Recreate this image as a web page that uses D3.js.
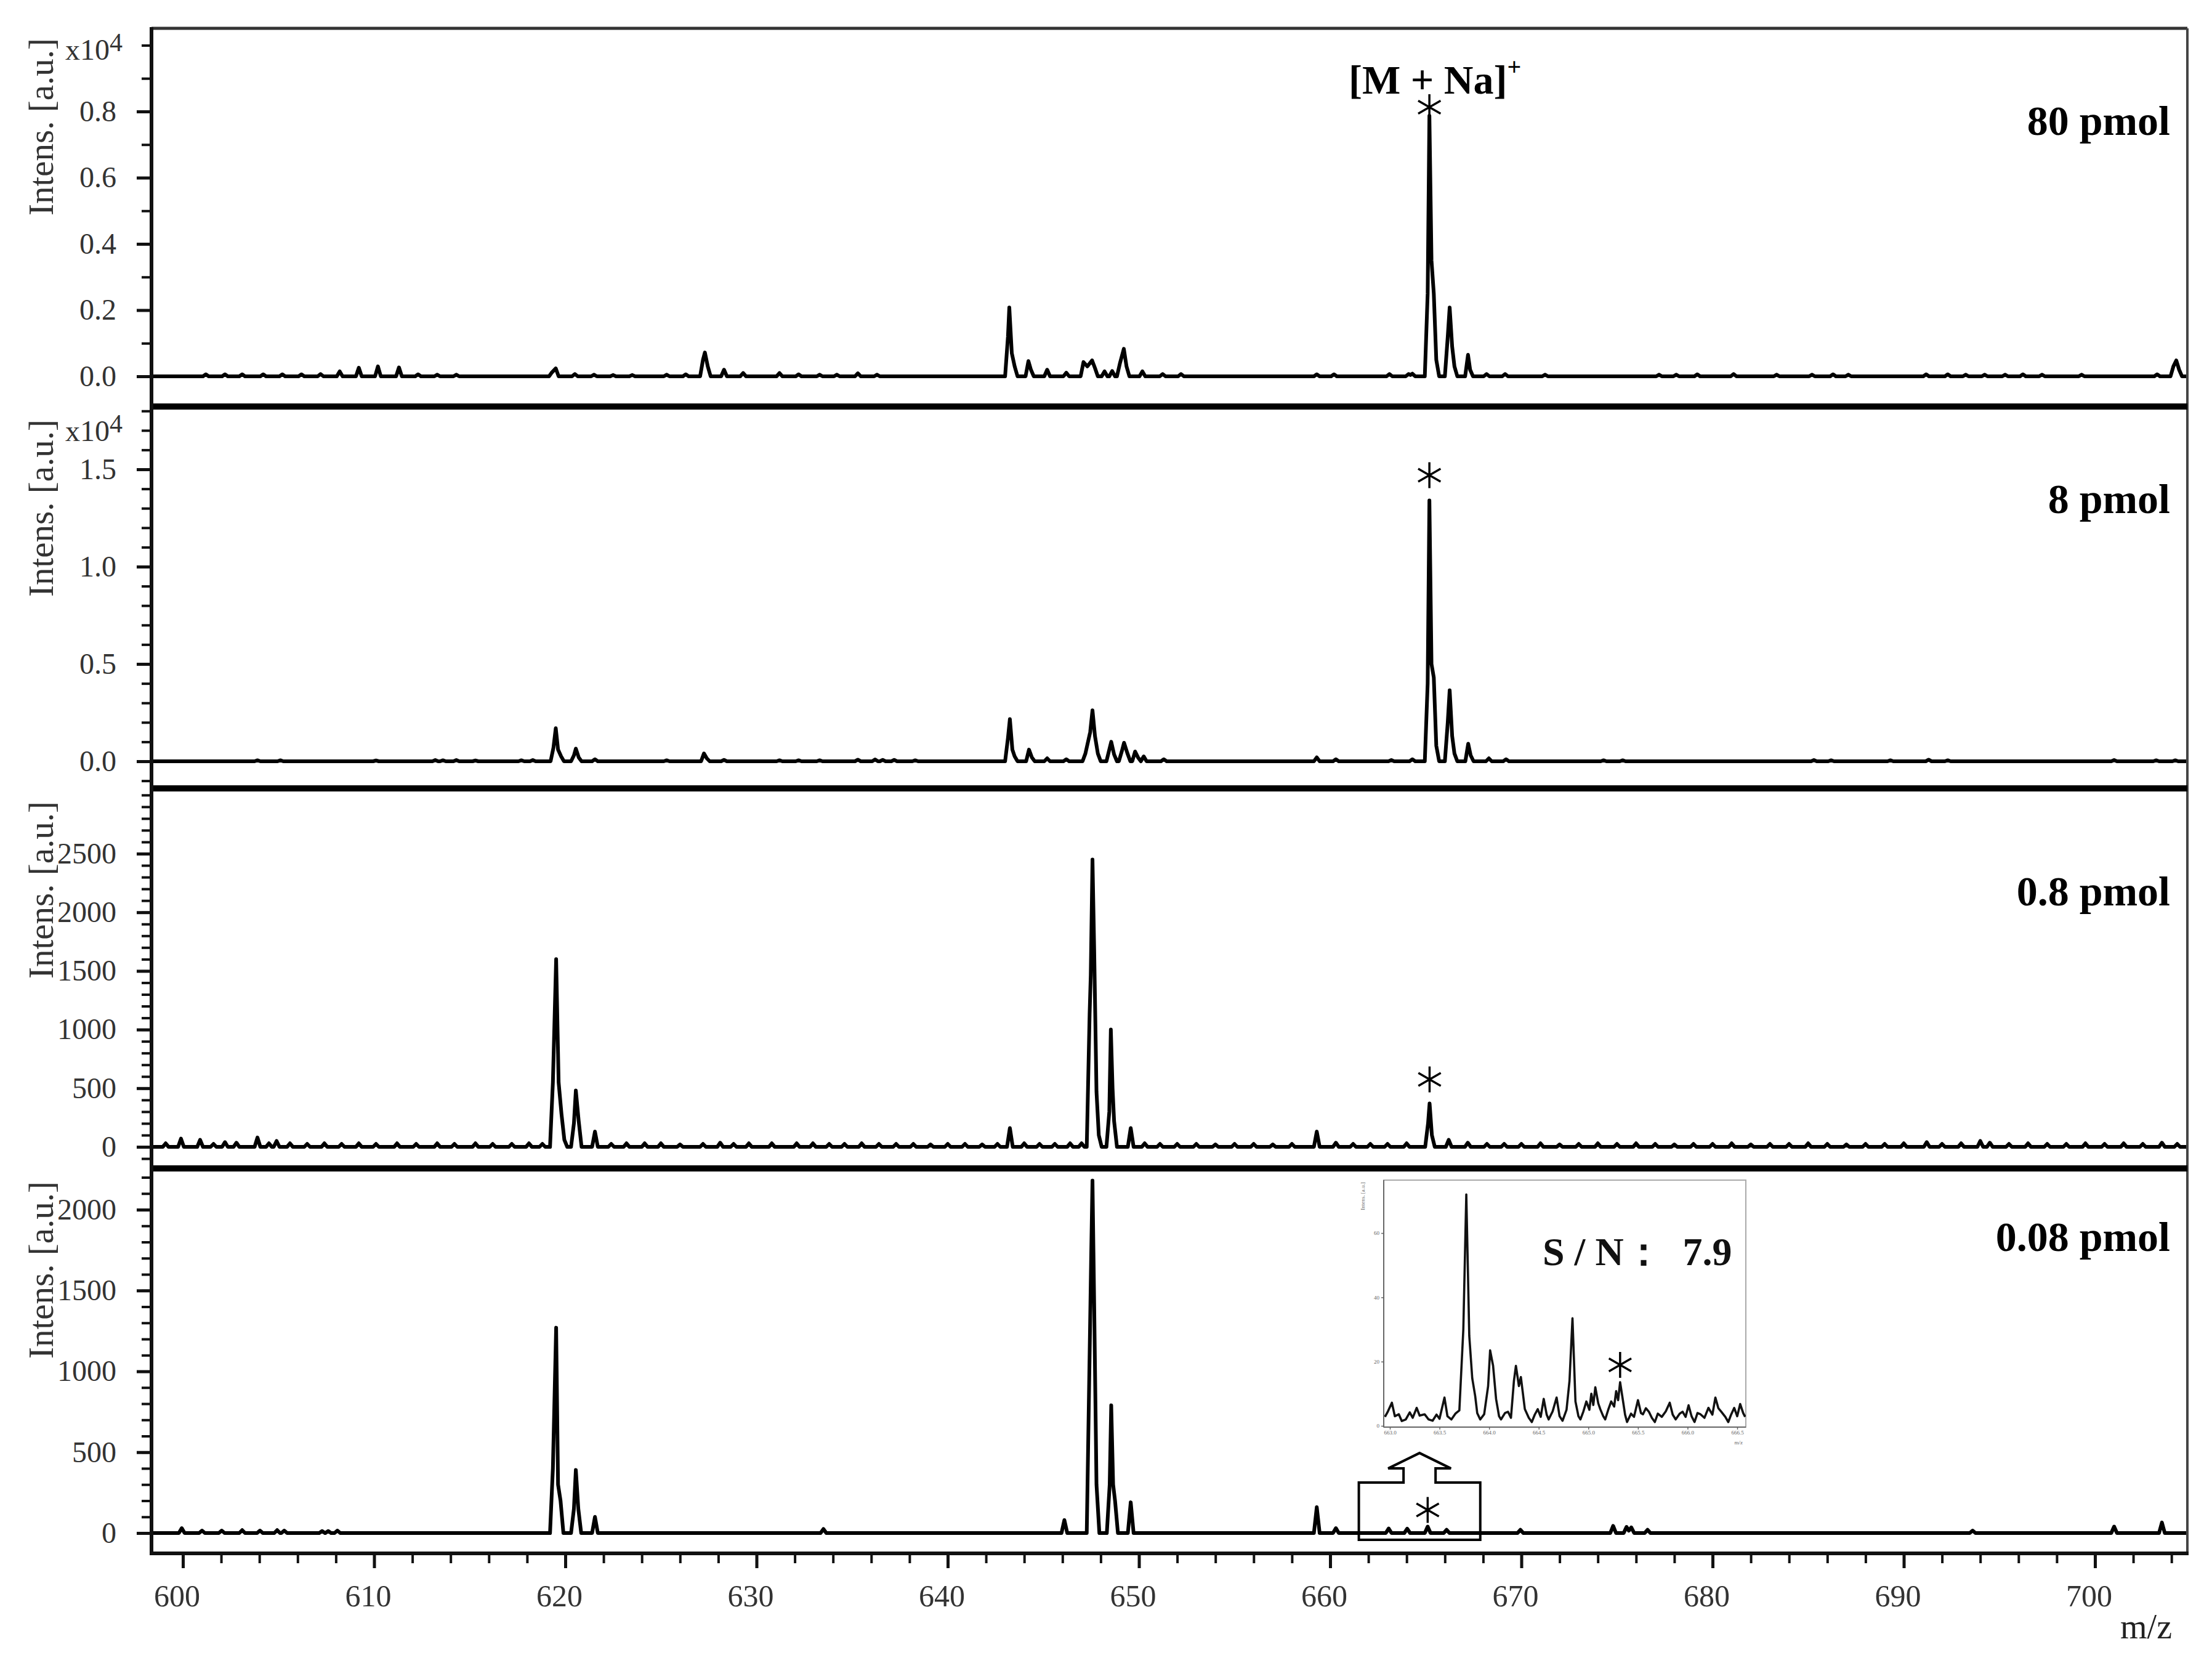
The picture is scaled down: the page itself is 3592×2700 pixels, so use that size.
<!DOCTYPE html>
<html><head><meta charset="utf-8">
<script src="https://cdn.jsdelivr.net/npm/d3@7"></script>
<style>
body{margin:0;background:#fff}
svg{display:block}
text{font-family:"Liberation Serif","Times New Roman",serif}
</style>
</head><body>
<svg id="c" width="3592" height="2700"></svg>
<script>
// ---------------- DATA ----------------
// Each spectrum: list of peak profiles; each profile = [[m/z, intensity], ...]
const spec80 = [
 [[601.2,60]],[[602.2,60]],[[603.1,60]],[[604.2,60]],[[605.2,60]],[[606.2,60]],[[607.2,70]],[[608.2,150]],[[609.2,260]],[[610.2,300]],[[611.3,270]],[[612.3,60]],[[613.3,50]],[[614.3,50]],
 [[619.3,120],[619.5,240]],[[620.5,70]],[[621.5,50]],[[622.5,40]],[[623.5,40]],[[625.3,50]],[[626.3,60]],
 [[627.2,500],[627.3,720],[627.45,300]],[[628.3,200]],[[629.3,100]],[[631.2,100]],[[632.2,60]],[[633.3,50]],[[634.2,50]],[[635.3,90]],[[636.3,50]],
 [[643.15,1200],[643.22,2080],[643.35,700],[643.5,300]],[[644.22,460],[644.35,200]],[[645.2,200]],[[646.2,110]],
 [[647.1,430],[647.3,300],[647.55,480],[647.7,250]],[[648.2,150]],[[648.6,160]],[[649.0,380],[649.21,830],[649.35,300]],[[650.18,150]],[[651.24,70]],[[652.2,70]],
 [[659.3,60]],[[660.2,60]],[[663.1,70]],[[664.1,70],[664.2,40],[664.3,80]],
 [[665.1,2500],[665.19,7870],[665.3,3500],[665.42,2500],[665.55,500]],[[666.15,1200],[666.25,2080],[666.38,900],[666.5,300]],[[667.21,650],[667.32,200]],[[668.18,70]],[[669.15,70]],[[671.24,50]],
 [[677.2,50]],[[678.1,50]],[[679.2,60]],[[681.1,70]],[[683.35,50]],[[685.2,50]],[[686.3,60]],[[687.1,50]],[[691.17,60]],[[692.3,60]],[[693.24,50]],[[694.23,50]],[[695.3,50]],[[696.23,60]],[[697.23,50]],[[699.3,50]],[[703.25,60]],[[704.1,300],[704.25,480],[704.4,200]]
];
const spec8 = [
 [[603.9,50]],[[605.1,50]],[[610.1,40]],[[613.2,60]],[[613.6,50]],[[614.3,60]],[[615.3,40]],[[617.7,50]],[[618.3,60]],
 [[619.38,700],[619.5,1700],[619.62,600],[619.78,250]],[[620.45,300],[620.55,650],[620.7,200]],[[621.55,100]],[[625.3,50]],
 [[627.25,400],[627.4,150]],[[628.3,70]],[[631.2,50]],[[632.2,50]],[[633.3,50]],[[635.3,80]],[[636.2,90]],[[636.6,70]],[[637.2,70]],[[638.3,50]],
 [[643.15,1200],[643.25,2170],[643.38,600],[643.5,250]],[[644.25,600],[644.4,200]],[[645.2,150]],[[646.2,100]],
 [[647.2,400],[647.45,1500],[647.57,2620],[647.7,1300],[647.85,400]],[[648.45,600],[648.55,1000],[648.7,350]],[[649.1,500],[649.22,950],[649.4,400]],[[649.8,500],[649.95,200]],[[650.25,250]],[[651.3,100]],
 [[659.3,200]],[[660.3,100]],[[663.2,60]],[[664.3,100]],
 [[665.1,4000],[665.19,13400],[665.3,5000],[665.42,4300],[665.55,800]],[[666.15,2000],[666.25,3650],[666.38,1300],[666.5,400]],[[667.22,900],[667.35,300]],[[668.3,150]],[[669.2,100]],
 [[674.3,50]],[[675.3,50]],[[685.3,60]],[[686.2,50]],[[689.3,50]],[[691.3,80]],[[692.3,50]],[[701.0,60]],[[703.2,50]],[[704.2,50]]
];
const spec08 = [
 [[599.1,30]],[[599.9,70]],[[600.9,60]],[[601.6,25]],[[602.2,40]],[[602.8,35]],[[603.9,80]],[[604.5,30]],[[604.9,50]],[[605.6,30]],[[606.5,25]],[[607.4,30]],[[608.3,25]],[[609.2,30]],[[610.1,25]],[[611.2,30]],[[612.2,25]],[[613.3,30]],[[614.2,25]],[[615.3,30]],[[616.2,25]],[[617.2,25]],[[618.1,30]],[[618.8,25]],
 [[619.35,550],[619.52,1600],[619.65,550],[619.8,280],[619.95,60]],[[620.45,200],[620.55,480],[620.7,220]],[[621.55,130]],[[622.4,25]],[[623.2,30]],[[624.15,30]],[[625.0,30]],[[626.0,20]],[[627.2,25]],[[628.1,35]],[[628.8,25]],[[629.6,30]],[[630.8,30]],[[632.1,30]],[[632.95,30]],[[633.8,25]],[[634.6,25]],[[635.5,30]],[[636.4,25]],[[637.3,25]],[[638.2,25]],[[639.1,20]],[[640.0,25]],[[640.9,25]],[[641.8,20]],[[642.6,25]],
 [[643.25,160]],[[644.0,30]],[[644.8,25]],[[645.6,25]],[[646.4,30]],[[647.0,30]],
 [[647.42,1130],[647.48,1465],[647.57,2450],[647.66,1670],[647.78,470],[647.9,100]],[[648.45,300],[648.53,1000],[648.62,500],[648.7,220]],[[649.57,160]],[[650.3,30]],[[651.1,25]],[[652.0,25]],[[653.0,25]],[[654.0,20]],[[655.0,25]],[[656.0,25]],[[657.0,20]],[[658.0,25]],
 [[659.3,130]],[[660.3,35]],[[661.2,25]],[[662.1,25]],[[663.0,25]],[[664.0,30]],
 [[665.12,200],[665.2,370],[665.32,100]],[[666.2,60]],[[667.2,35]],[[668.2,25]],[[669.1,25]],
 [[670.0,25]],[[671.0,30]],[[672.0,20]],[[673.0,25]],[[674.0,30]],[[675.0,25]],[[676.0,30]],[[677.0,25]],[[678.0,20]],[[679.0,25]],[[680.0,25]],[[681.0,30]],[[682.0,20]],[[683.0,25]],[[684.0,25]],[[685.0,30]],[[686.0,25]],[[687.0,20]],[[688.0,25]],[[689.0,25]],[[690.0,30]],[[691.2,40]],[[692.0,25]],[[693.0,30]],[[694.0,50]],[[694.5,35]],[[695.5,25]],[[696.5,30]],[[697.5,25]],[[698.5,25]],[[699.5,30]],[[700.5,25]],[[701.5,30]],[[702.5,25]],[[703.5,35]],[[704.3,25]]
];
const spec008 = [
 [[599.94,30]],[[601.0,15]],[[602.03,15]],[[603.1,18]],[[604.03,15]],[[604.93,18]],[[605.3,15]],[[607.28,12]],[[607.6,12]],[[608.08,15]],
 [[619.35,400],[619.52,1270],[619.62,300],[619.75,200]],[[620.45,150],[620.55,390],[620.68,150]],[[621.55,100]],
 [[633.5,25]],[[646.1,80]],
 [[647.42,1100],[647.5,1700],[647.57,2180],[647.66,1400],[647.78,300]],[[648.47,300],[648.55,790],[648.65,300],[648.75,200]],[[649.57,190]],
 [[659.3,160]],[[660.3,30]],[[663.06,28]],[[664.03,27]],[[665.1,40]],[[666.09,20]],[[669.95,20]],
 [[674.8,44]],[[675.5,38],[675.62,15],[675.75,35]],[[676.6,20]],[[693.6,15]],[[701.0,40]],[[703.5,65]]
];
// Inset (zoom of the 0.08 pmol spectrum): [m/z, intensity]
const insetSpec = [
 [662.95,2.8],[662.98,4.5],[663.02,7.2],[663.05,3.0],[663.09,3.6],[663.12,1.5],[663.16,2.0],[663.2,4.2],[663.23,2.5],[663.27,5.6],[663.3,3.2],[663.35,3.6],[663.39,2.0],[663.43,1.6],[663.47,3.5],[663.5,2.2],[663.55,8.8],[663.58,3.0],[663.62,2.0],[663.66,3.8],[663.7,4.8],
 [663.74,30],[663.77,72],[663.8,28],[663.83,14.8],[663.86,9.2],[663.88,4.0],[663.91,2.0],[663.95,3.6],[663.99,12.4],[664.01,23.5],[664.04,18.7],[664.07,8.4],[664.1,3.0],[664.12,2.0],[664.16,4.0],[664.19,4.4],[664.22,2.5],
 [664.25,14],[664.27,18.7],[664.3,12.4],[664.32,15.2],[664.36,5.2],[664.4,2.5],[664.43,1.2],[664.46,3.5],[664.49,5.2],[664.52,2.8],[664.55,8.4],[664.58,3.5],[664.6,2.0],[664.64,4.5],[664.68,8.8],[664.71,3.0],[664.74,1.6],[664.78,5.0],
 [664.81,14],[664.84,33.5],[664.87,7.6],[664.9,3.0],[664.92,2.0],[664.95,4.5],[664.98,7.6],[665.01,5.0],[665.03,10],[665.05,6.5],[665.07,12],[665.1,7.0],[665.12,5.2],[665.15,3.0],[665.17,2.0],[665.2,5.0],[665.23,7.6],[665.26,6.0],[665.28,10.8],[665.3,8.0],[665.32,13.6],[665.35,7.6],[665.37,3.5],[665.39,1.2],
 [665.43,3.8],[665.46,2.8],[665.5,8.0],[665.53,4.0],[665.55,3.6],[665.58,5.5],[665.61,4.4],[665.64,2.5],[665.67,1.2],[665.7,3.8],[665.74,2.8],[665.78,4.5],[665.82,7.2],[665.85,3.5],[665.88,2.0],[665.92,3.8],[665.95,4.4],[665.98,2.8],[666.01,6.4],[666.04,3.0],[666.07,1.2],[666.1,4.0],[666.13,3.6],[666.17,2.5],[666.21,5.6],[666.25,3.5],[666.28,8.8],[666.31,5.5],[666.34,4.4],[666.38,2.8],[666.41,1.2],[666.44,3.6],[666.47,5.6],[666.5,3.0],[666.53,6.8],[666.56,4.0],[666.58,2.8]
];

const panelLabels = ["80 pmol","8 pmol","0.8 pmol","0.08 pmol"];
const yMajorTicks = [[0,2000,4000,6000,8000],[0,5000,10000,15000],[0,500,1000,1500,2000,2500],[0,500,1000,1500,2000]];
const yTickLabels = [["0.0","0.2","0.4","0.6","0.8"],["0.0","0.5","1.0","1.5"],["0","500","1000","1500","2000","2500"],["0","500","1000","1500","2000"]];
const yMinorSpec = [[0,10000,1000],[-1000,18000,1000],[-100,3000,100],[0,2200,100]]; // start, stop, step
const yExponent = ["4","4",null,null];
const xMajorTicks = [600,610,620,630,640,650,660,670,680,690,700];
const xTickLabels = ["600","610","620","630","640","650","660","670","680","690","700"];
const insetXTicks = [663,663.5,664,664.5,665,665.5,666,666.5];
const insetYTicks = [0,20,40,60];

// ---------------- LAYOUT ----------------
const W=3592,H=2700;
const L=246,R=3552,TOP=46,BOT=2522;
const seps=[660,1280,1897];
const panelTop=[TOP,665,1285,1902];
const panelBot=[655,1275,1892,2519];
const yRef=[[0,8000],[0,15000],[0,2500],[0,2000]];
const yPx=[[611,181],[1236,762],[1862,1386],[2489,1964]];
const labelBase=[219,833,1470,2031];
const specs=[spec80,spec8,spec08,spec008];

const svg=d3.select("#c");
svg.append("rect").attr("width",W).attr("height",H).attr("fill","#fff");
const x=d3.scaleLinear().domain([600,700]).range([297,3402]);
const ys=yRef.map((d,i)=>d3.scaleLinear().domain(d).range(yPx[i]));

const defs=svg.append("defs");
panelTop.forEach((t,i)=>{
  defs.append("clipPath").attr("id","clip"+i).append("rect")
    .attr("x",L).attr("y",t).attr("width",R-L).attr("height",panelBot[i]-t);
});

function profile(clusters){
  const hw=0.15;
  const pts=[[x.invert(L),0]];
  clusters.slice().sort((a,b)=>a[0][0]-b[0][0]).forEach(c=>{
    pts.push([c[0][0]-hw,0]); c.forEach(p=>pts.push(p)); pts.push([c[c.length-1][0]+hw,0]);
  });
  pts.push([x.invert(R),0]);
  return pts;
}

// spectra
specs.forEach((s,i)=>{
  const line=d3.line().x(d=>x(d[0])).y(d=>ys[i](d[1]));
  svg.append("path").datum(profile(s)).attr("clip-path","url(#clip"+i+")")
    .attr("d",line).attr("fill","none").attr("stroke","#000")
    .attr("stroke-width",6).attr("stroke-linejoin","round");
});

// frame
svg.append("line").attr("x1",L).attr("x2",R).attr("y1",TOP).attr("y2",TOP).attr("stroke","#333").attr("stroke-width",5);
svg.append("line").attr("x1",R).attr("x2",R).attr("y1",TOP).attr("y2",BOT).attr("stroke","#444").attr("stroke-width",4);
seps.forEach(y=>svg.append("line").attr("x1",L).attr("x2",R).attr("y1",y).attr("y2",y).attr("stroke","#000").attr("stroke-width",10));
svg.append("line").attr("x1",L-2).attr("x2",R+2).attr("y1",BOT).attr("y2",BOT).attr("stroke","#111").attr("stroke-width",6);
svg.append("line").attr("x1",L).attr("x2",L).attr("y1",TOP-2).attr("y2",BOT+3).attr("stroke","#111").attr("stroke-width",6);

// y axes
ys.forEach((y,i)=>{
  const [a,b,st]=yMinorSpec[i];
  const minor=d3.range(a,b+st/2,st);
  const gm=svg.append("g").attr("transform",`translate(${L},0)`)
    .call(d3.axisLeft(y).tickValues(minor).tickSize(16).tickSizeOuter(0).tickFormat(""));
  gm.select(".domain").remove();
  gm.selectAll(".tick line").attr("stroke","#111").attr("stroke-width",4);
  const g=svg.append("g").attr("transform",`translate(${L},0)`)
    .call(d3.axisLeft(y).tickValues(yMajorTicks[i]).tickSize(24).tickSizeOuter(0).tickPadding(33)
      .tickFormat((d,k)=>yTickLabels[i][k]));
  g.select(".domain").remove();
  g.selectAll(".tick line").attr("stroke","#111").attr("stroke-width",5);
  g.selectAll(".tick text").attr("font-family","Liberation Serif").attr("font-size",48).attr("fill","#333");
  if(yExponent[i]){
    const t=svg.append("text").attr("x",199).attr("y",panelTop[i]+51).attr("text-anchor","end")
      .attr("font-size",48).attr("fill","#333");
    t.append("tspan").text("x10");
    t.append("tspan").attr("font-size",42).attr("dy",-14).text(yExponent[i]);
  }
  svg.append("text").attr("transform",`translate(86,${panelTop[i]+160}) rotate(-90)`)
    .attr("text-anchor","middle").attr("font-size",57).attr("fill","#333").text("Intens. [a.u.]");
  svg.append("text").attr("x",3524).attr("y",labelBase[i]).attr("text-anchor","end")
    .attr("font-size",68).attr("font-weight","bold").attr("fill","#000").text(panelLabels[i]);
});

// x axis
const gxm=svg.append("g").attr("transform",`translate(0,${BOT})`)
  .call(d3.axisBottom(x).tickValues(d3.range(600,705,2)).tickSize(16).tickSizeOuter(0).tickFormat(""));
gxm.select(".domain").remove();
gxm.selectAll(".tick line").attr("stroke","#111").attr("stroke-width",4);
const gx=svg.append("g").attr("transform",`translate(0,${BOT})`)
  .call(d3.axisBottom(x).tickValues(xMajorTicks).tickSize(24).tickSizeOuter(0).tickPadding(26)
    .tickFormat((d,k)=>xTickLabels[k]));
gx.select(".domain").remove();
gx.selectAll(".tick line").attr("stroke","#111").attr("stroke-width",5);
gx.selectAll(".tick text").attr("font-family","Liberation Serif").attr("font-size",50).attr("fill","#333").attr("dx",-10);
svg.append("text").attr("x",3527).attr("y",2660).attr("text-anchor","end").attr("font-size",56).attr("fill","#222").text("m/z");

// [M + Na]+ label
const mz0=665.19;
const tl=svg.append("text").attr("x",x(mz0)+9).attr("y",152).attr("text-anchor","middle")
  .attr("font-size",66).attr("font-weight","bold").attr("fill","#000");
tl.append("tspan").text("[M + Na]");
tl.append("tspan").attr("font-size",40).attr("dy",-30).text("+");

// stars
function star(cx,cy,r){
  const p=d3.path();
  [90,30,150].forEach(a=>{
    const dx=r*Math.cos(a*Math.PI/180), dy=r*Math.sin(a*Math.PI/180);
    p.moveTo(cx-dx,cy-dy); p.lineTo(cx+dx,cy+dy);
  });
  svg.append("path").attr("d",p.toString()).attr("stroke","#000").attr("stroke-width",3.5).attr("fill","none");
}
const starMarks=[{p:0,mz:665.19,v:7870,lift:14},{p:1,mz:665.19,v:13400,lift:41},{p:2,mz:665.2,v:370,lift:39},{p:3,mz:665.1,v:40,lift:27}];
starMarks.forEach(s=>star(x(s.mz),ys[s.p](s.v)-s.lift,21));

// zoom box with arrow (panel 4)
const zb={mz0:661.5,mz1:667.85,v0:-42,v1:312};
{
  const y4=ys[3];
  const x0=x(zb.mz0),x1=x(zb.mz1),yt=y4(zb.v1),yb=y4(zb.v0),cx=(x0+x1)/2;
  const sw=26,sh=23,hwid=51,hh=25;
  const p=d3.path();
  p.moveTo(x0,yb);p.lineTo(x0,yt);p.lineTo(cx-sw,yt);p.lineTo(cx-sw,yt-sh);p.lineTo(cx-hwid,yt-sh);
  p.lineTo(cx,yt-sh-hh);p.lineTo(cx+hwid,yt-sh);p.lineTo(cx+sw,yt-sh);p.lineTo(cx+sw,yt);p.lineTo(x1,yt);p.lineTo(x1,yb);p.closePath();
  svg.append("path").attr("d",p.toString()).attr("fill","none").attr("stroke","#000").attr("stroke-width",4).attr("stroke-linejoin","miter");
}

// inset
const IL=2247,IR=2835,IT=1916,IB=2317;
const ix=d3.scaleLinear().domain([663,666.5]).range([2257,2821]);
const iy=d3.scaleLinear().domain([0,60]).range([2315,2002]);
svg.append("rect").attr("x",IL).attr("y",IT).attr("width",IR-IL).attr("height",IB-IT).attr("fill","#fff").attr("stroke","#aaa").attr("stroke-width",2);
defs.append("clipPath").attr("id","clipI").append("rect").attr("x",IL).attr("y",IT).attr("width",IR-IL).attr("height",IB-IT);
svg.append("path").datum(insetSpec).attr("clip-path","url(#clipI)")
  .attr("d",d3.line().x(d=>ix(d[0])).y(d=>iy(d[1])))
  .attr("fill","none").attr("stroke","#111").attr("stroke-width",3.6).attr("stroke-linejoin","round");
svg.append("line").attr("x1",IL).attr("x2",IL).attr("y1",IT).attr("y2",IB).attr("stroke","#666").attr("stroke-width",2);
svg.append("line").attr("x1",IL).attr("x2",IR).attr("y1",IB).attr("y2",IB).attr("stroke","#666").attr("stroke-width",2);
const gix=svg.append("g").attr("transform",`translate(0,${IB})`)
  .call(d3.axisBottom(ix).tickValues(insetXTicks).tickSize(4).tickPadding(2).tickFormat(d3.format(".1f")));
gix.select(".domain").remove();
gix.selectAll(".tick line").attr("stroke","#666").attr("stroke-width",1.5);
gix.selectAll(".tick text").attr("font-size",9).attr("fill","#666").attr("font-family","Liberation Serif");
const giy=svg.append("g").attr("transform",`translate(${IL},0)`)
  .call(d3.axisLeft(iy).tickValues(insetYTicks).tickSize(4).tickPadding(3));
giy.select(".domain").remove();
giy.selectAll(".tick line").attr("stroke","#666").attr("stroke-width",1.5);
giy.selectAll(".tick text").attr("font-size",9).attr("fill","#666").attr("font-family","Liberation Serif");
svg.append("text").attr("transform",`translate(2216,1942) rotate(-90)`).attr("text-anchor","middle")
  .attr("font-size",9).attr("fill","#666").text("Intens. [a.u.]");
svg.append("text").attr("x",2830).attr("y",2345).attr("text-anchor","end").attr("font-size",9).attr("fill","#666").text("m/z");
svg.append("text").attr("x",2505).attr("y",2054).attr("font-size",64).attr("font-weight","bold").attr("fill","#111")
  .style("white-space","pre").text("S / N：  7.9");
star(ix(665.32),iy(13.6)-28,21);
</script>
</body></html>
